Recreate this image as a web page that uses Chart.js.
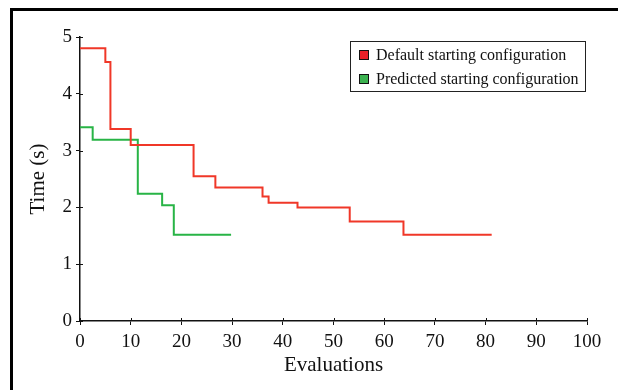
<!DOCTYPE html>
<html>
<head>
<meta charset="utf-8">
<script src="https://cdn.jsdelivr.net/npm/chart.js@4.4.1/dist/chart.umd.min.js"></script>
<style>
html,body{margin:0;padding:0;background:#fff;}
#wrap{position:relative;width:618px;height:390px;}
</style>
</head>
<body>
<div id="wrap"><canvas id="c" width="618" height="390"></canvas></div>
<script>
// Data
const seriesLabels = ['Default starting configuration', 'Predicted starting configuration'];
const defaultEvals = [0, 5, 6, 10, 22.4, 26.7, 36, 37.2, 42.9, 53.2, 63.8, 81.2];
const defaultTimes = [4.80, 4.56, 3.38, 3.10, 2.55, 2.35, 2.19, 2.08, 2.00, 1.75, 1.52, 1.52];
const predictedEvals = [0, 2.5, 11.4, 16.2, 18.5, 29.8];
const predictedTimes = [3.41, 3.19, 2.24, 2.04, 1.52, 1.52];
const xTicks = [0, 10, 20, 30, 40, 50, 60, 70, 80, 90, 100];
const yTicks = [0, 1, 2, 3, 4, 5];

const lineColors = ['rgb(240,55,40)', 'rgb(40,180,70)'];
const swatchColors = ['rgb(232,32,40)', 'rgb(60,178,80)'];

const toPts = (xs, ys) => xs.map((x, i) => ({x: x, y: ys[i]}));

const frame = {
  id: 'frame',
  beforeDraw(chart) {
    const ctx = chart.ctx;
    ctx.save();
    ctx.fillStyle = '#000';
    ctx.fillRect(10, 8, 3, 382);
    ctx.fillRect(10, 8, 608, 3);
    ctx.restore();
  }
};

// small inner tick stubs so ticks cross the axis lines as in the reference
const innerTicks = {
  id: 'innerTicks',
  afterDraw(chart) {
    const ctx = chart.ctx;
    const xs = chart.scales.x, ys = chart.scales.y;
    const a = chart.chartArea;
    ctx.save();
    ctx.strokeStyle = '#111';
    ctx.lineWidth = 1;
    xs.ticks.forEach(t => {
      const px = Math.round(xs.getPixelForValue(t.value)) + 0.5;
      ctx.beginPath(); ctx.moveTo(px, a.bottom); ctx.lineTo(px, a.bottom - 3); ctx.stroke();
    });
    ys.ticks.forEach(t => {
      const py = Math.round(ys.getPixelForValue(t.value)) + 0.5;
      ctx.beginPath(); ctx.moveTo(a.left, py); ctx.lineTo(a.left + 3, py); ctx.stroke();
    });
    ctx.restore();
  }
};

const boxLegend = {
  id: 'boxLegend',
  afterDraw(chart) {
    const ctx = chart.ctx;
    ctx.save();
    ctx.strokeStyle = '#222';
    ctx.lineWidth = 1;
    ctx.strokeRect(350.5, 41.5, 235, 50);
    ctx.font = '16px "Liberation Serif", "Times New Roman", serif';
    ctx.textBaseline = 'middle';
    ctx.textAlign = 'left';
    const rows = [55, 79];
    chart.data.datasets.forEach((ds, i) => {
      const cy = rows[i];
      ctx.fillStyle = swatchColors[i];
      ctx.fillRect(359, cy - 5, 10, 10);
      ctx.strokeStyle = '#111';
      ctx.strokeRect(359.5, cy - 4.5, 9, 9);
      ctx.fillStyle = '#111';
      ctx.fillText(ds.label, 376, cy + 1);
    });
    ctx.restore();
  }
};

const serif = '"Liberation Serif", "Times New Roman", serif';

new Chart(document.getElementById('c'), {
  type: 'scatter',
  data: {
    datasets: [
      {label: seriesLabels[0], data: toPts(defaultEvals, defaultTimes), showLine: true, stepped: 'before',
       borderColor: lineColors[0], borderWidth: 2, pointRadius: 0, fill: false},
      {label: seriesLabels[1], data: toPts(predictedEvals, predictedTimes), showLine: true, stepped: 'before',
       borderColor: lineColors[1], borderWidth: 2, pointRadius: 0, fill: false}
    ]
  },
  options: {
    responsive: false,
    animation: false,
    devicePixelRatio: 1,
    layout: {padding: {left: 0, top: 37, right: 31, bottom: 0}},
    plugins: {legend: {display: false}, tooltip: {enabled: false}},
    scales: {
      x: {
        type: 'linear', min: 0, max: 100,
        afterFit(s) { s.height = 69; },
        afterBuildTicks(s) { s.ticks = xTicks.map(v => ({value: v})); },
        grid: {drawOnChartArea: false, drawTicks: true, tickLength: 4, color: '#111', tickColor: '#111'},
        border: {display: true, color: '#111', width: 1.5},
        ticks: {color: '#111', font: {family: serif, size: 19}, padding: 6, maxRotation: 0},
        title: {display: true, text: 'Evaluations', color: '#111', font: {family: serif, size: 21}, padding: {top: 0, bottom: 12}}
      },
      y: {
        type: 'linear', min: 0, max: 5,
        afterFit(s) { s.width = 80; },
        afterBuildTicks(s) { s.ticks = yTicks.map(v => ({value: v})); },
        grid: {drawOnChartArea: false, drawTicks: true, tickLength: 4, color: '#111', tickColor: '#111'},
        border: {display: true, color: '#111', width: 1.5},
        ticks: {color: '#111', font: {family: serif, size: 19}, padding: 4},
        title: {display: true, text: 'Time (s)', color: '#111', font: {family: serif, size: 21}, padding: {top: 26, bottom: 0}}
      }
    }
  },
  plugins: [frame, innerTicks, boxLegend]
});
</script>
</body>
</html>
